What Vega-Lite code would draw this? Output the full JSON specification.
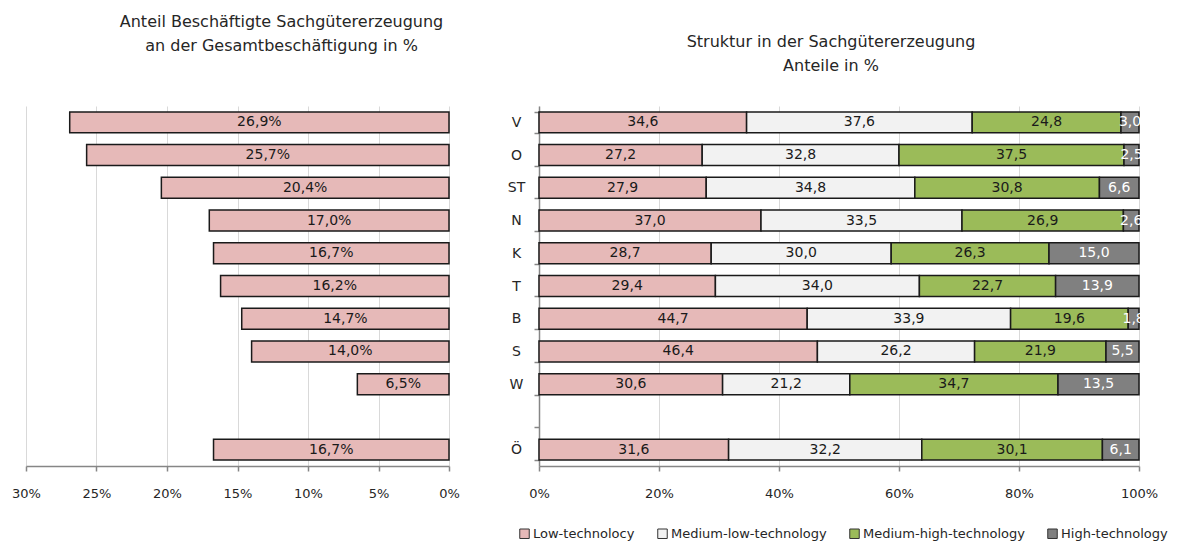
{
  "$schema": "https://vega.github.io/schema/vega-lite/v6.json",
  "background": "white",
  "padding": {"left": 11, "top": 14, "right": 0, "bottom": 0},
  "config": {
    "font": "DejaVu Sans",
    "view": {"stroke": null},
    "locale": {"number": {"decimal": ",", "thousands": ".", "grouping": [3], "currency": ["", " €"]}},
    "title": {"fontSize": 16, "fontWeight": "normal", "color": "#262626", "lineHeight": 24, "baseline": "bottom", "anchor": "middle"},
    "axis": {"labelColor": "#262626", "labelFontSize": 13, "labelFlush": false, "gridColor": "#D9D9D9", "gridWidth": 1, "domainColor": "#868686", "domainWidth": 1.5, "tickColor": "#868686", "tickWidth": 1.5, "tickSize": 5, "title": null},
    "legend": {"labelFontSize": 13, "labelColor": "#262626"}
  },
  "datasets": {
    "emp": [
      {"region": "V", "share": 26.9},
      {"region": "O", "share": 25.7},
      {"region": "ST", "share": 20.4},
      {"region": "N", "share": 17.0},
      {"region": "K", "share": 16.7},
      {"region": "T", "share": 16.2},
      {"region": "B", "share": 14.7},
      {"region": "S", "share": 14.0},
      {"region": "W", "share": 6.5},
      {"region": "Ö", "share": 16.7}
    ],
    "str": [
      {"region": "V", "cat": "Low-technolocy", "v": 34.6},
      {"region": "V", "cat": "Medium-low-technology", "v": 37.6},
      {"region": "V", "cat": "Medium-high-technology", "v": 24.8},
      {"region": "V", "cat": "High-technology", "v": 3.0},
      {"region": "O", "cat": "Low-technolocy", "v": 27.2},
      {"region": "O", "cat": "Medium-low-technology", "v": 32.8},
      {"region": "O", "cat": "Medium-high-technology", "v": 37.5},
      {"region": "O", "cat": "High-technology", "v": 2.5},
      {"region": "ST", "cat": "Low-technolocy", "v": 27.9},
      {"region": "ST", "cat": "Medium-low-technology", "v": 34.8},
      {"region": "ST", "cat": "Medium-high-technology", "v": 30.8},
      {"region": "ST", "cat": "High-technology", "v": 6.6},
      {"region": "N", "cat": "Low-technolocy", "v": 37.0},
      {"region": "N", "cat": "Medium-low-technology", "v": 33.5},
      {"region": "N", "cat": "Medium-high-technology", "v": 26.9},
      {"region": "N", "cat": "High-technology", "v": 2.6},
      {"region": "K", "cat": "Low-technolocy", "v": 28.7},
      {"region": "K", "cat": "Medium-low-technology", "v": 30.0},
      {"region": "K", "cat": "Medium-high-technology", "v": 26.3},
      {"region": "K", "cat": "High-technology", "v": 15.0},
      {"region": "T", "cat": "Low-technolocy", "v": 29.4},
      {"region": "T", "cat": "Medium-low-technology", "v": 34.0},
      {"region": "T", "cat": "Medium-high-technology", "v": 22.7},
      {"region": "T", "cat": "High-technology", "v": 13.9},
      {"region": "B", "cat": "Low-technolocy", "v": 44.7},
      {"region": "B", "cat": "Medium-low-technology", "v": 33.9},
      {"region": "B", "cat": "Medium-high-technology", "v": 19.6},
      {"region": "B", "cat": "High-technology", "v": 1.8},
      {"region": "S", "cat": "Low-technolocy", "v": 46.4},
      {"region": "S", "cat": "Medium-low-technology", "v": 26.2},
      {"region": "S", "cat": "Medium-high-technology", "v": 21.9},
      {"region": "S", "cat": "High-technology", "v": 5.5},
      {"region": "W", "cat": "Low-technolocy", "v": 30.6},
      {"region": "W", "cat": "Medium-low-technology", "v": 21.2},
      {"region": "W", "cat": "Medium-high-technology", "v": 34.7},
      {"region": "W", "cat": "High-technology", "v": 13.5},
      {"region": "Ö", "cat": "Low-technolocy", "v": 31.6},
      {"region": "Ö", "cat": "Medium-low-technology", "v": 32.2},
      {"region": "Ö", "cat": "Medium-high-technology", "v": 30.1},
      {"region": "Ö", "cat": "High-technology", "v": 6.1}
    ]
  },
  "bounds": "flush",
  "spacing": 90,
  "hconcat": [
    {
      "width": 423,
      "height": 360,
      "title": {"text": ["Anteil Beschäftigte Sachgütererzeugung", "an der Gesamtbeschäftigung in %"], "dx": 44, "offset": 52},
      "data": {"name": "emp"},
      "encoding": {
        "y": {"field": "region", "type": "nominal", "scale": {"domain": ["V", "O", "ST", "N", "K", "T", "B", "S", "W", "", "Ö"], "paddingInner": 0.36, "paddingOuter": 0.18}, "axis": null}
      },
      "layer": [
        {
          "mark": {"type": "bar", "fill": "#E6B9B8", "stroke": "#1a1a1a", "strokeWidth": 1.5},
          "encoding": {
            "x": {"field": "share", "type": "quantitative", "scale": {"domain": [0, 30], "reverse": true, "nice": false},
                  "axis": {"values": [0, 5, 10, 15, 20, 25, 30], "labelExpr": "datum.value + '%'", "labelPadding": 16}}
          }
        },
        {
          "transform": [{"calculate": "datum.share / 2", "as": "mid"}],
          "mark": {"type": "text", "fontSize": 14, "color": "#1a1a1a", "text": {"expr": "format(datum.share, '.1f') + '%'"}},
          "encoding": {
            "x": {"field": "mid", "type": "quantitative"}
          }
        }
      ]
    },
    {
      "width": 600,
      "height": 360,
      "title": {"text": ["Struktur in der Sachgütererzeugung", "Anteile in %"], "dx": -8, "offset": 25},
      "data": {"name": "str"},
      "transform": [
        {"calculate": "indexof(['Low-technolocy','Medium-low-technology','Medium-high-technology','High-technology'], datum.cat)", "as": "ord"},
        {"stack": "v", "groupby": ["region"], "sort": [{"field": "ord", "order": "ascending"}], "offset": "normalize", "as": ["x0", "x1"]},
        {"calculate": "(datum.x0 + datum.x1) / 2", "as": "mid"}
      ],
      "encoding": {
        "y": {"field": "region", "type": "nominal", "scale": {"domain": ["V", "O", "ST", "N", "K", "T", "B", "S", "W", "", "Ö"], "paddingInner": 0.36, "paddingOuter": 0.18},
              "axis": {"tickBand": "extent", "labelAlign": "center", "labelPadding": 18, "labelFontSize": 14, "grid": false}}
      },
      "layer": [
        {
          "mark": {"type": "bar", "stroke": "#1a1a1a", "strokeWidth": 1.5},
          "encoding": {
            "x": {"field": "x0", "type": "quantitative", "scale": {"domain": [0, 1], "nice": false},
                  "axis": {"values": [0, 0.2, 0.4, 0.6, 0.8, 1], "format": ".0%", "labelPadding": 16}},
            "x2": {"field": "x1"},
            "color": {"field": "cat", "type": "nominal",
                      "scale": {"domain": ["Low-technolocy", "Medium-low-technology", "Medium-high-technology", "High-technology"], "range": ["#E6B9B8", "#F2F2F2", "#9BBB59", "#808080"]},
                      "legend": {"title": null, "orient": "none", "direction": "horizontal", "legendX": 492, "legendY": 421,
                                 "symbolType": "square", "symbolSize": 90, "symbolStrokeColor": "#333333", "symbolStrokeWidth": 1, "symbolOpacity": 1,
                                 "labelOffset": 2, "columnPadding": 20, "labelLimit": 0}}
          }
        },
        {
          "mark": {"type": "text", "fontSize": 14},
          "encoding": {
            "x": {"field": "mid", "type": "quantitative"},
            "text": {"field": "v", "type": "quantitative", "format": ".1f"},
            "color": {"condition": {"test": "datum.cat === 'High-technology'", "value": "white"}, "value": "#1a1a1a"},
            "fontWeight": {"condition": {"test": "datum.cat === 'High-technology'", "value": "bold"}, "value": "normal"}
          }
        }
      ]
    }
  ]
}
